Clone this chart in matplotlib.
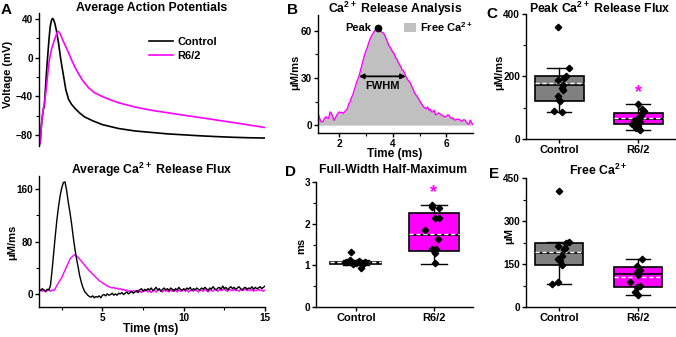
import numpy as np
import matplotlib
matplotlib.use('Agg')
import matplotlib.pyplot as plt
from matplotlib.patches import Patch

plt.rcParams['font.family'] = ['Liberation Sans', 'DejaVu Sans']
plt.rcParams['font.weight'] = 'bold'
plt.rcParams['axes.labelweight'] = 'bold'
plt.rcParams['mathtext.fontset'] = 'custom'
plt.rcParams['mathtext.rm'] = 'Liberation Sans:bold'
plt.rcParams['mathtext.bf'] = 'Liberation Sans:bold'
plt.rcParams['mathtext.default'] = 'rm'
plt.rcParams['axes.linewidth'] = 1.0

MAGENTA = '#ff00ff'
BOX_GRAY = '#808080'
FILL_GRAY = '#c0c0c0'

# --- A: average action potentials (time ms, voltage mV)
ap_ctrl_t = [1.11, 1.15, 1.18, 1.22, 1.28, 1.34, 1.38, 1.42, 1.48, 1.56, 1.65, 1.72, 1.79,
             1.86, 1.93, 2.00, 2.08, 2.17, 2.30, 2.45, 2.61, 2.75, 2.92, 3.10, 3.30, 3.60,
             3.90, 4.40, 5.00, 6.00, 7.00, 8.00, 9.00, 10.0, 11.0, 12.0, 13.0, 14.0, 15.0]
ap_ctrl_v = [-82, -89, -86, -76, -64, -56, -52, -51, -36, -15, 5, 20, 32,
             38, 40.5, 39, 35, 28, 15, -3, -19, -33, -43, -48, -52, -57,
             -61, -65, -69, -73, -75.5, -77, -78.5, -79.5, -80.5, -81.3, -82, -82.5, -82.8]
ap_r62_t = [1.11, 1.15, 1.18, 1.22, 1.28, 1.34, 1.38, 1.45, 1.52, 1.59, 1.66, 1.73, 1.81,
            1.89, 1.97, 2.05, 2.13, 2.20, 2.26, 2.33, 2.42, 2.51, 2.70, 2.92, 3.12, 3.33,
            3.55, 3.75, 3.95, 4.15, 4.50, 4.98, 5.50, 6.00, 7.04, 8.07, 9.00, 10.0, 11.05,
            12.0, 13.1, 14.0, 15.0]
ap_r62_v = [-82, -89, -86, -76, -64, -56, -52, -45, -36, -25, -13, -3, 4,
            10, 14, 18.5, 22, 25.5, 27, 26.5, 24, 20, 13, 5, -3, -10.5,
            -17, -22.6, -27, -31, -36, -40, -43.5, -46.5, -51, -54.4, -56.7, -59.3, -61.8,
            -64.2, -67, -69.3, -72]

# --- A: average Ca2+ release flux (uM/ms), sampled every 0.1 ms from 1.1 ms
flux_t0, flux_dt = 1.1, 0.1
flux_ctrl = [7, 5, 8, 6, 4, 7, 6, 12, 35, 62, 88, 113, 133, 150, 162, 170, 171, 158, 140, 125,
             108, 88, 70, 55, 42, 28, 18, 10, 4, 1, -2, -4, -5, -3, -6, -4, -5, -3, -6, -2,
             -1, -3, 0, -2, -1, 1, -2, 0, -2, 1, 0, 2, -1, 1, 3, 0, 2, 4, 1, 3,
             5, 2, 6, 8, 4, 7, 5, 8, 6,
             9, 5, 7, 10, 6, 8, 4, 7, 9, 6, 8, 5, 9, 7, 4, 8, 6, 10, 7, 5,
             8, 6, 9, 7, 10, 5, 8, 6, 9, 7, 6, 9, 7, 10, 8, 5, 9, 7, 11, 8,
             6, 9, 10, 7, 12, 8, 10, 6, 9, 11, 8, 10, 7, 9, 11, 8, 6, 9, 10, 7,
             9, 8, 11, 7, 10, 8, 9, 11, 8, 10, 12]
flux_r62 = [5, 7, 4, 6, 3, 5, 7, 4, 6, 5,
            8, 13, 17, 21, 25, 31, 36, 42, 47, 53, 56, 58, 60, 58, 56, 53, 50, 47, 44, 41,
            38, 35, 33, 30, 28, 25, 23, 20, 19, 17, 15, 14, 12, 11, 10, 9, 10, 8, 9, 7,
            8, 6, 7, 5, 6, 4, 5, 3, 5, 4,
            3, 6, 4, 2, 5, 4, 6, 3, 5, 2, 4, 6, 3, 5, 7, 4, 3, 6, 4, 5,
            3, 6, 4, 7, 5, 3, 6, 4, 5, 7, 4, 6, 3, 5, 6, 4, 7, 5, 3, 6,
            5, 4, 7, 5, 3, 6, 5, 4, 7, 6, 4, 7, 5, 6, 8, 5, 4, 7, 6, 5,
            7, 5, 6, 4, 7, 5, 6, 8, 5, 6, 5, 7, 4, 6, 5, 7, 5, 6, 4, 6]

# --- B: single release flux trace, sampled every 0.05 ms from 1.2 ms
rel_t0, rel_dt = 1.2, 0.05
rel_flux = [7.4, 5, 2.5, 2, 2.5, 4.5, 5.3, 4.5, 4.2, 8.4, 7.5, 5.5, 3, 4.5, 6.3, 7.5,
            8.4, 7.8, 8.2, 7.4, 8.5, 9.5, 10.5, 13.5, 14.5, 17.5, 19, 22, 24.5, 27.4,
            29.5, 32, 35.5, 38.5, 42, 45, 47.5, 49.5, 52.5, 54.8, 56.5, 58, 59.5, 60.5,
            61, 62, 60, 59.5, 59, 58.5, 57, 55, 53, 50.5, 49.5, 48, 46.3, 45.5, 43, 42,
            40, 38.5, 37, 35, 34.5, 32.5, 30.5, 29, 28, 27, 25, 23.2, 21, 19.5, 18.5, 17,
            15.8, 14, 13, 11.5, 11, 10.5, 11.5, 9.5, 10, 8.5, 8.4, 9.5, 6.5, 7, 7.8, 7.4,
            6.5, 6.3, 5.5, 5.3, 5.5, 6.5, 6.3, 5, 4.2, 4.5, 3.5, 3.2, 3.8, 3.7, 3.5, 2.8,
            2.5, 3.5, 3.2, 2, 1, 0.5, 3.2, 1.5, 0.4]

groups = ['Control', 'R6/2']
# order: q1, median, q3, whisker low, whisker high, mean
peak_stats = [[123, 174, 201, 86, 228, 178], [47, 65, 82, 29, 111, 68]]
peak_ctrl = [357, 228, 202, 195, 189, 174, 163, 157, 139, 125, 121, 88, 86]
peak_r62 = [113, 97, 90, 83, 76, 69, 64, 58, 53, 47, 42, 34, 29, 31]
fwhm_stats = [[1.03, 1.06, 1.09, 1.01, 1.13, 1.07], [1.35, 1.74, 2.25, 1.04, 2.45, 1.76]]
fwhm_ctrl = [1.33, 1.12, 1.10, 1.08, 1.07, 1.06, 1.05, 1.04, 1.03, 0.94]
fwhm_r62 = [2.46, 2.40, 2.38, 2.13, 2.13, 1.86, 1.63, 1.40, 1.40, 1.30, 1.05]
free_stats = [[146, 190, 222, 79, 227, 193], [71, 114, 140, 41, 166, 105]]
free_ctrl = [405, 227, 225, 213, 207, 201, 179, 168, 160, 146, 88, 79]
free_r62 = [166, 144, 130, 123, 112, 86, 73, 70, 51, 41]

# jitter used when drawing the dots (layout only)
jit_peak_ctrl = [-0.01, 0.13, 0.09, 0.06, -0.01, 0.05, 0.03, 0.05, -0.02, 0.0, 0.01, -0.06, 0.04]
jit_peak_r62 = [0.0, 0.05, 0.07, 0.05, 0.04, 0.02, -0.02, -0.05, 0.03, -0.08, 0.0, -0.03, 0.03, 0.01]
jit_fwhm_ctrl = [-0.06, -0.08, 0.04, 0.12, -0.12, 0.06, 0.0, 0.09, -0.03, 0.07]
jit_fwhm_r62 = [-0.02, -0.02, 0.06, 0.01, 0.06, -0.12, 0.05, -0.03, 0.03, 0.01, 0.01]
jit_free_ctrl = [0.0, 0.13, 0.09, -0.01, 0.08, 0.06, 0.03, -0.02, 0.01, 0.04, -0.01, -0.09]
jit_free_r62 = [0.05, -0.02, 0.03, -0.01, 0.0, -0.1, 0.03, -0.02, -0.04, 0.0]

W, H = 676, 337
fig = plt.figure(figsize=(W / 100, H / 100), dpi=100)


def add_axes(left, top, right, bottom):
    return fig.add_axes([left / W, 1 - bottom / H, (right - left) / W, (bottom - top) / H])


def fig_text(x, y, s, **kw):
    fig.text(x / W, 1 - y / H, s, **kw)


def place_ylabel(ax, text, x_px, y_px):
    ax.set_ylabel(text, fontsize=8)
    b = ax.get_position()
    ax.yaxis.set_label_coords((x_px / W - b.x0) / b.width, (1 - y_px / H - b.y0) / b.height)
    ax.yaxis.label.set_horizontalalignment('center')
    ax.yaxis.label.set_verticalalignment('center')


def place_xlabel(ax, text, x_px, y_px):
    ax.set_xlabel(text, fontsize=8.5)
    b = ax.get_position()
    ax.xaxis.set_label_coords((x_px / W - b.x0) / b.width, (1 - y_px / H - b.y0) / b.height)
    ax.xaxis.label.set_verticalalignment('center')


def style(ax):
    for s in ['top', 'right']:
        ax.spines[s].set_visible(False)
    ax.tick_params(which='major', direction='out', length=3, width=1, labelsize=7.2, pad=1.2)
    ax.tick_params(which='minor', direction='out', length=2, width=0.8)


# ---------- A top
axA1 = add_axes(39, 13, 265, 146)
style(axA1)
axA1.spines['bottom'].set_visible(False)
axA1.plot(ap_ctrl_t, ap_ctrl_v, color='black', lw=1.2, label='Control')
axA1.plot(ap_r62_t, ap_r62_v, color=MAGENTA, lw=1.2, label='R6/2')
axA1.set_xlim(1.1, 15)
axA1.set_ylim(-91, 46)
axA1.set_xticks([])
axA1.set_yticks([-80, -40, 0, 40])
axA1.set_yticks([-60, -20, 20], minor=True)
axA1.legend(loc='upper left', bbox_to_anchor=(0.485, 0.817), frameon=False, fontsize=8,
            handlelength=2.2, handletextpad=0.4, labelspacing=0.35, borderpad=0, borderaxespad=0)
place_ylabel(axA1, 'Voltage (mV)', 8.5, 74)

# ---------- A bottom
axA2 = add_axes(39, 176, 265, 307)
style(axA2)
tf = flux_t0 + flux_dt * np.arange(len(flux_ctrl))
tr = flux_t0 + flux_dt * np.arange(len(flux_r62))
axA2.plot(tr, flux_r62, color=MAGENTA, lw=1.0)
axA2.plot(tf, flux_ctrl, color='black', lw=1.0)
axA2.set_xlim(1.1, 15)
axA2.set_ylim(-20, 180)
axA2.set_xticks([5, 10, 15])
axA2.set_xticks([2.5, 7.5, 12.5], minor=True)
axA2.set_yticks([0, 80, 160])
axA2.set_yticks([40, 120], minor=True)
place_ylabel(axA2, 'μM/ms', 12.5, 242)
place_xlabel(axA2, 'Time (ms)', 151, 329)

# ---------- B
axB = add_axes(318, 15, 473, 133)
style(axB)
tb = rel_t0 + rel_dt * np.arange(len(rel_flux))
rel = np.array(rel_flux)
axB.fill_between(tb, 0, rel, color=FILL_GRAY, lw=0)
axB.plot(tb, rel, color=MAGENTA, lw=1.0)
ipk = int(np.argmax(rel))
axB.plot(tb[ipk], rel[ipk], 'o', color='black', ms=4.5, zorder=5)
axB.text(tb[ipk] - 0.27, rel[ipk], 'Peak', ha='right', va='center', fontsize=8)
half = rel[ipk] / 2
t_up = np.interp(half, rel[:ipk + 1], tb[:ipk + 1])
t_dn = np.interp(half, rel[ipk:][::-1], tb[ipk:][::-1])
axB.annotate('', xy=(t_up, half), xytext=(t_dn, half),
             arrowprops=dict(arrowstyle='<|-|>', color='black', lw=1.3, mutation_scale=7,
                             shrinkA=0, shrinkB=0))
axB.text((t_up + t_dn) / 2, half - 6, 'FWHM', ha='center', va='center', fontsize=8)
axB.set_xlim(1.2, 7.0)
axB.set_ylim(-5, 70)
axB.set_xticks([2, 4, 6])
axB.set_xticks([3, 5], minor=True)
axB.set_yticks([0, 30, 60])
axB.set_yticks([15, 45], minor=True)
axB.legend(handles=[Patch(facecolor=FILL_GRAY, edgecolor='none')], labels=['Free Ca$^{2+}$'],
           loc='upper right', bbox_to_anchor=(1.0, 0.96), frameon=False, fontsize=8,
           handlelength=1.1, handleheight=0.9, handletextpad=0.35, borderpad=0, borderaxespad=0)
place_ylabel(axB, 'μM/ms', 295, 72)
place_xlabel(axB, 'Time (ms)', 395, 154)


# ---------- box panels
def box_panel(ax, stats, pts, jits, width, star=None):
    style(ax)
    bstats = []
    for name, s in zip(groups, stats):
        bstats.append(dict(label=name, q1=s[0], med=s[1], q3=s[2], whislo=s[3],
                           whishi=s[4], mean=s[5], fliers=[]))
    bp = ax.bxp(bstats, positions=[0, 1], widths=width, patch_artist=True, showmeans=True,
                meanline=True, showfliers=False,
                boxprops=dict(edgecolor='black', linewidth=1.2),
                medianprops=dict(color='black', linewidth=1.2),
                meanprops=dict(color='white', linestyle='--', linewidth=1.0, dashes=(3, 2)),
                whiskerprops=dict(color='black', linewidth=1.0),
                capprops=dict(color='black', linewidth=1.0))
    for patch, fc in zip(bp['boxes'], [BOX_GRAY, MAGENTA]):
        patch.set_facecolor(fc)
    for i, (vals, jit) in enumerate(zip(pts, jits)):
        ax.plot(i + np.array(jit), vals, 'D', color='black', ms=3.3, zorder=4)
    if star is not None:
        ax.text(1, star, '*', color=MAGENTA, ha='center', va='center', fontsize=13)
    ax.set_xticks([0, 1])
    ax.set_xticklabels(groups, fontsize=8)


axC = add_axes(526, 14, 676, 139)
box_panel(axC, peak_stats, [peak_ctrl, peak_r62], [jit_peak_ctrl, jit_peak_r62], 0.62, star=148)
axC.set_xlim(-0.42, 1.48)
axC.set_ylim(0, 400)
axC.set_yticks([0, 200, 400])
axC.set_yticks([100, 300], minor=True)
place_ylabel(axC, 'μM/ms', 499, 72)

axD = add_axes(316, 182, 473, 307)
box_panel(axD, fwhm_stats, [fwhm_ctrl, fwhm_r62], [jit_fwhm_ctrl, jit_fwhm_r62], 0.65, star=2.75)
axD.set_xlim(-0.51, 1.5)
axD.set_ylim(0, 3)
axD.set_yticks([0, 1, 2, 3])
axD.set_yticks([0.5, 1.5, 2.5], minor=True)
place_ylabel(axD, 'ms', 301, 246)

axE = add_axes(526, 178, 676, 307)
box_panel(axE, free_stats, [free_ctrl, free_r62], [jit_free_ctrl, jit_free_r62], 0.61)
axE.set_xlim(-0.42, 1.48)
axE.set_ylim(0, 450)
axE.set_yticks([0, 150, 300, 450])
axE.set_yticks([75, 225, 375], minor=True)
place_ylabel(axE, 'μM', 509, 236)

# ---------- titles and panel letters
tkw = dict(ha='center', va='center', fontsize=8.8, fontweight='bold')
fig_text(151.5, 8.5, 'Average Action Potentials', **tkw)
fig_text(151.5, 170, 'Average Ca$^{2+}$ Release Flux', **tkw)
fig_text(395, 8.5, 'Ca$^{2+}$ Release Analysis', **tkw)
fig_text(600, 8.5, 'Peak Ca$^{2+}$ Release Flux', **tkw)
fig_text(393, 170, 'Full-Width Half-Maximum', **tkw)
fig_text(598, 170, 'Free Ca$^{2+}$', **tkw)

lkw = dict(ha='center', va='center', fontsize=11, fontweight='bold')
fig_text(6, 10, 'A', **lkw)
fig_text(292, 10, 'B', **lkw)
fig_text(492, 14, 'C', **lkw)
fig_text(290, 172, 'D', **lkw)
fig_text(494, 174, 'E', **lkw)

fig.savefig('out.png', dpi=100)
